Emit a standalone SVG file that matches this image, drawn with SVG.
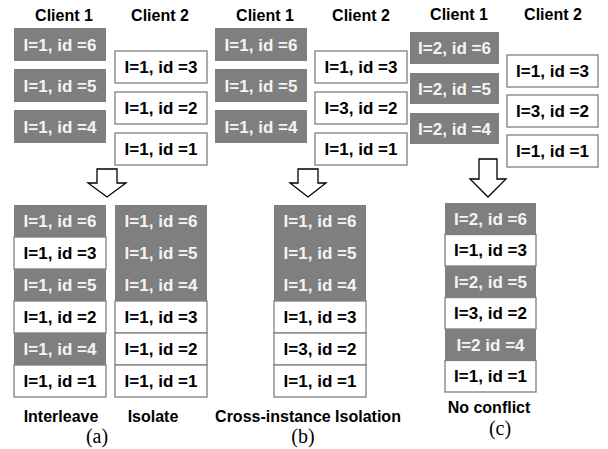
<svg xmlns="http://www.w3.org/2000/svg" width="608" height="449" viewBox="0 0 608 449">
  <style>
    .hdr { font-family: "Liberation Sans", Arial, sans-serif; font-weight: bold; font-size: 16px; fill: #000; text-anchor: middle; }
    .cap { font-family: "Liberation Sans", Arial, sans-serif; font-weight: bold; font-size: 16px; fill: #000; text-anchor: middle; }
    .sub { font-family: "Liberation Serif", "Times New Roman", serif; font-size: 20px; fill: #000; text-anchor: middle; }
    .g { fill: #7f7f7f; stroke: none; }
    .w { fill: #ffffff; stroke: #7f7f7f; stroke-width: 1.3; }
    .tg { font-family: "Liberation Sans", Arial, sans-serif; font-weight: bold; font-size: 17px; fill: #f4f4f4; text-anchor: middle; }
    .tw { font-family: "Liberation Sans", Arial, sans-serif; font-weight: bold; font-size: 17px; fill: #000; text-anchor: middle; }
    .arrow { fill: #ffffff; stroke: #000; stroke-width: 1.3; stroke-linejoin: miter; }
  </style>

  <!-- ===== (a) Interleave / Isolate ===== -->
  <g id="a-headers">
    <text class="hdr" x="64" y="21">Client 1</text>
    <text class="hdr" x="160" y="21">Client 2</text>
  </g>
  <g id="a-c1">
    <rect class="g" x="14" y="28" width="92" height="33"/><text class="tg" x="60" y="50.5">I=1, id =6</text>
    <rect class="g" x="14" y="69" width="92" height="33"/><text class="tg" x="60" y="91.5">I=1, id =5</text>
    <rect class="g" x="14" y="110" width="92" height="33"/><text class="tg" x="60" y="132.5">I=1, id =4</text>
  </g>
  <g id="a-c2">
    <rect class="w" x="115" y="51" width="92" height="32"/><text class="tw" x="161" y="73">I=1, id =3</text>
    <rect class="w" x="115" y="92" width="92" height="32"/><text class="tw" x="161" y="114">I=1, id =2</text>
    <rect class="w" x="115" y="133" width="92" height="32"/><text class="tw" x="161" y="155">I=1, id =1</text>
  </g>
  <g id="a-interleave">
    <rect class="g" x="14" y="205" width="92" height="32"/><text class="tg" x="60" y="227">I=1, id =6</text>
    <rect class="w" x="14" y="237" width="92" height="32"/><text class="tw" x="60" y="259">I=1, id =3</text>
    <rect class="g" x="14" y="269" width="92" height="32"/><text class="tg" x="60" y="291">I=1, id =5</text>
    <rect class="w" x="14" y="301" width="92" height="32"/><text class="tw" x="60" y="323">I=1, id =2</text>
    <rect class="g" x="14" y="333" width="92" height="32"/><text class="tg" x="60" y="355">I=1, id =4</text>
    <rect class="w" x="14" y="365" width="92" height="32"/><text class="tw" x="60" y="387">I=1, id =1</text>
  </g>
  <g id="a-isolate">
    <rect class="g" x="115" y="205" width="92" height="32"/><text class="tg" x="161" y="227">I=1, id =6</text>
    <rect class="g" x="115" y="237" width="92" height="32"/><text class="tg" x="161" y="259">I=1, id =5</text>
    <rect class="g" x="115" y="269" width="92" height="32"/><text class="tg" x="161" y="291">I=1, id =4</text>
    <rect class="w" x="115" y="301" width="92" height="32"/><text class="tw" x="161" y="323">I=1, id =3</text>
    <rect class="w" x="115" y="333" width="92" height="32"/><text class="tw" x="161" y="355">I=1, id =2</text>
    <rect class="w" x="115" y="365" width="92" height="32"/><text class="tw" x="161" y="387">I=1, id =1</text>
  </g>
  <g id="a-labels">
    <text class="cap" x="61" y="422">Interleave</text>
    <text class="cap" x="153" y="422">Isolate</text>
    <text class="sub" x="97" y="443">(a)</text>
  </g>

  <!-- ===== (b) Cross-instance Isolation ===== -->
  <g id="b-headers">
    <text class="hdr" x="265" y="21">Client 1</text>
    <text class="hdr" x="361" y="21">Client 2</text>
  </g>
  <g id="b-c1">
    <rect class="g" x="215" y="28" width="92" height="33"/><text class="tg" x="261" y="50.5">I=1, id =6</text>
    <rect class="g" x="215" y="69" width="92" height="33"/><text class="tg" x="261" y="91.5">I=1, id =5</text>
    <rect class="g" x="215" y="110" width="92" height="33"/><text class="tg" x="261" y="132.5">I=1, id =4</text>
  </g>
  <g id="b-c2">
    <rect class="w" x="315" y="51" width="92" height="32"/><text class="tw" x="361" y="73">I=1, id =3</text>
    <rect class="w" x="315" y="92" width="92" height="32"/><text class="tw" x="361" y="114">I=3, id =2</text>
    <rect class="w" x="315" y="133" width="92" height="32"/><text class="tw" x="361" y="155">I=1, id =1</text>
  </g>
  <g id="b-result">
    <rect class="g" x="274" y="205" width="92" height="32"/><text class="tg" x="320" y="227">I=1, id =6</text>
    <rect class="g" x="274" y="237" width="92" height="32"/><text class="tg" x="320" y="259">I=1, id =5</text>
    <rect class="g" x="274" y="269" width="92" height="32"/><text class="tg" x="320" y="291">I=1, id =4</text>
    <rect class="w" x="274" y="301" width="92" height="32"/><text class="tw" x="320" y="323">I=1, id =3</text>
    <rect class="w" x="274" y="333" width="92" height="32"/><text class="tw" x="320" y="355">I=3, id =2</text>
    <rect class="w" x="274" y="365" width="92" height="32"/><text class="tw" x="320" y="387">I=1, id =1</text>
  </g>
  <g id="b-labels">
    <text class="cap" x="308" y="422">Cross-instance Isolation</text>
    <text class="sub" x="303" y="443">(b)</text>
  </g>

  <!-- ===== (c) No conflict ===== -->
  <g id="c-headers">
    <text class="hdr" x="459" y="20">Client 1</text>
    <text class="hdr" x="553" y="20">Client 2</text>
  </g>
  <g id="c-c1">
    <rect class="g" x="410" y="32" width="89" height="32"/><text class="tg" x="454.5" y="54">I=2, id =6</text>
    <rect class="g" x="410" y="73" width="89" height="31"/><text class="tg" x="454.5" y="94.5">I=2, id =5</text>
    <rect class="g" x="410" y="113" width="89" height="31"/><text class="tg" x="454.5" y="134.5">I=2, id =4</text>
  </g>
  <g id="c-c2">
    <rect class="w" x="507" y="55" width="91" height="32"/><text class="tw" x="552.5" y="77">I=1, id =3</text>
    <rect class="w" x="507" y="95" width="91" height="32"/><text class="tw" x="552.5" y="117">I=3, id =2</text>
    <rect class="w" x="507" y="135" width="91" height="32"/><text class="tw" x="552.5" y="157">I=1, id =1</text>
  </g>
  <g id="c-result">
    <rect class="g" x="445" y="203" width="91" height="31.5"/><text class="tg" x="490.5" y="224.5">I=2, id =6</text>
    <rect class="w" x="445" y="234.5" width="91" height="31.5"/><text class="tw" x="490.5" y="256">I=1, id =3</text>
    <rect class="g" x="445" y="266" width="91" height="31.5"/><text class="tg" x="490.5" y="287.5">I=2, id =5</text>
    <rect class="w" x="445" y="297.5" width="91" height="31.5"/><text class="tw" x="490.5" y="319">I=3, id =2</text>
    <rect class="g" x="445" y="329" width="91" height="31.5"/><text class="tg" x="490.5" y="350.5">I=2 id =4</text>
    <rect class="w" x="445" y="360.5" width="91" height="31.5"/><text class="tw" x="490.5" y="382">I=1, id =1</text>
  </g>
  <g id="c-labels">
    <text class="cap" x="489" y="413">No conflict</text>
    <text class="sub" x="500" y="435">(c)</text>
  </g>

  <!-- block arrows from inputs to merged result -->
  <g id="connectors">
    <path class="arrow" d="M97,169 H117 V183 H126 L107,197 L88,183 H97 Z"/>
    <path class="arrow" d="M298,169 H318 V183 H326 L308,197 L290,183 H298 Z"/>
    <path class="arrow" d="M479,159 H497 V179 H506 L488,197 L470,179 H479 Z"/>
  </g>
</svg>
